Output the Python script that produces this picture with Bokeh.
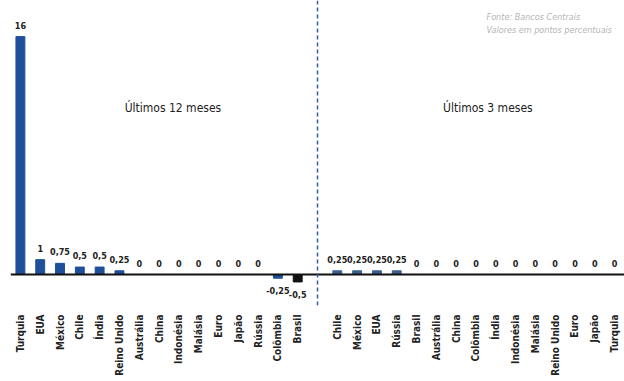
import math
from bokeh.plotting import figure
from bokeh.models import ColumnDataSource, Range1d, FixedTicker, Span, Label
from bokeh.core.properties import value
from bokeh.embed import file_html
from bokeh.resources import INLINE

# Policy-rate changes (percentage points), last 12 months
cats12 = ["Turquia", "EUA", "México", "Chile", "Índia", "Reino Unido", "Austrália",
          "China", "Indonésia", "Malásia", "Euro", "Japão", "Rússia", "Colômbia", "Brasil"]
vals12 = [16, 1, 0.75, 0.5, 0.5, 0.25, 0, 0, 0, 0, 0, 0, 0, -0.25, -0.5]

# Policy-rate changes (percentage points), last 3 months
cats3 = ["Chile", "México", "EUA", "Rússia", "Brasil", "Austrália", "China", "Colômbia",
         "Índia", "Indonésia", "Malásia", "Reino Unido", "Euro", "Japão", "Turquia"]
vals3 = [0.25, 0.25, 0.25, 0.25, 0, 0, 0, 0, 0, 0, 0, 0, 0, 0, 0]

title12 = "Últimos 12 meses"
title3 = "Últimos 3 meses"
source_note = ["Fonte: Bancos Centrais", "Valores em pontos percentuais"]

FONT = "DejaVu Sans Condensed"
BLUE = "#1f4f9b"
BLUE3 = "#3d5f8f"
BRASIL = "#111111"


def fmt(v):
    return ("%g" % v).replace(".", ",")


# x slots: 15 bars, one empty slot for the divider, 15 bars
x12 = list(range(len(cats12)))
gap = len(cats12)
x3 = [gap + 1 + i for i in range(len(cats3))]

xs = x12 + x3
vals = vals12 + vals3
colors = [BRASIL if c == "Brasil" else BLUE for c in cats12] + [BLUE3] * len(cats3)
labels = [fmt(v) for v in vals]

src = ColumnDataSource(dict(x=xs, top=vals, color=colors, label=labels))
pos = ColumnDataSource(dict(x=[x for x, v in zip(xs, vals) if v >= 0],
                            y=[v for v in vals if v >= 0],
                            label=[l for l, v in zip(labels, vals) if v >= 0]))
neg = ColumnDataSource(dict(x=[x for x, v in zip(xs, vals) if v < 0],
                            y=[v for v in vals if v < 0],
                            label=[l for l, v in zip(labels, vals) if v < 0]))

px_per_unit = 14.87
p = figure(width=624, height=381, output_backend="svg", toolbar_location=None,
           x_range=Range1d(-0.5, len(xs) + 0.5),
           y_range=Range1d(-31 / px_per_unit, 274 / px_per_unit),
           y_axis_location=None, min_border_left=10, min_border_right=0,
           min_border_top=0, min_border_bottom=76)
p.outline_line_color = None
p.xgrid.visible = False
p.ygrid.visible = False
p.background_fill_color = "white"
p.border_fill_color = "white"

p.vbar(x="x", top="top", bottom=0, width=0.45, color="color", source=src)

p.add_layout(Span(location=0, dimension="width", line_color="#111111", line_width=2))
p.add_layout(Span(location=gap, dimension="height", line_color="#2f5fa0",
                  line_width=1.5, line_dash="4 3"))

p.text(x="x", y="y", text="label", source=pos, text_align="center",
       text_baseline="bottom", y_offset=-8, text_font=value(FONT),
       text_font_size="9px", text_font_style="bold", text_color="#222222")
p.text(x="x", y="y", text="label", source=neg, text_align="center",
       text_baseline="top", y_offset=9, text_font=value(FONT),
       text_font_size="9px", text_font_style="bold", text_color="#222222")

ax = p.xaxis[0]
ax.ticker = FixedTicker(ticks=xs)
ax.major_label_overrides = {x: c for x, c in zip(xs, cats12 + cats3)}
ax.major_label_orientation = math.pi / 2
ax.major_label_standoff = 3
ax.axis_line_color = None
ax.major_tick_line_color = None
ax.minor_tick_line_color = None
ax.major_label_text_font = FONT
ax.major_label_text_font_size = "10px"
ax.major_label_text_font_style = "bold"
ax.major_label_text_color = "#222222"

title_y = (274 - 107) / px_per_unit
p.add_layout(Label(x=7.7, y=title_y, text=title12, text_align="center",
                   text_baseline="middle", text_font=FONT, text_font_size="12px",
                   text_color="#222222"))
p.add_layout(Label(x=23.6, y=title_y, text=title3, text_align="center",
                   text_baseline="middle", text_font=FONT, text_font_size="12px",
                   text_color="#222222"))

for i, line in enumerate(source_note):
    p.add_layout(Label(x=476, y=(274 - 16 - 13 * i) / px_per_unit, x_units="screen",
                       text=line, text_align="left", text_baseline="middle",
                       text_font=FONT, text_font_size="9px",
                       text_font_style="italic", text_color="#b5b5b5"))

open("out.html", "w").write(file_html(p, INLINE))
